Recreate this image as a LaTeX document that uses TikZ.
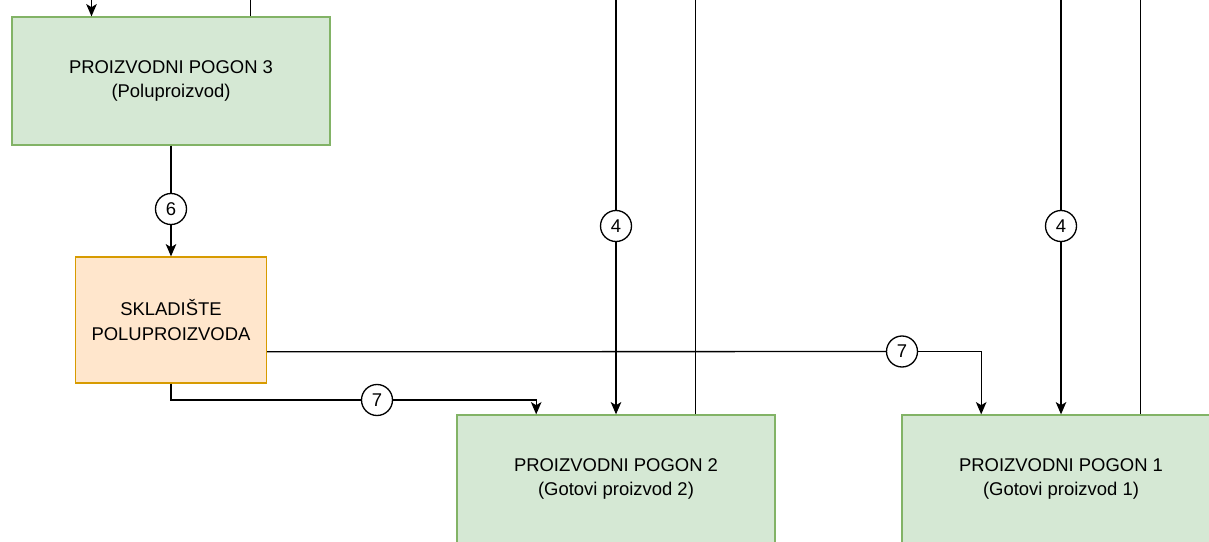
\documentclass[tikz,border=0pt]{standalone}
\usepackage{fontspec}
\setmainfont{Liberation Sans}
\usetikzlibrary{arrows.meta,calc}
\definecolor{pogonfill}{HTML}{D5E8D4}
\definecolor{pogonline}{HTML}{82B366}
\definecolor{skladfill}{HTML}{FFE6CC}
\definecolor{skladline}{HTML}{D79B00}
\tikzset{
  pogon/.style={draw=pogonline, fill=pogonfill, line width=0.75pt, minimum width=6.36cm, minimum height=2.56cm, align=center},
  sklad/.style={draw=skladline, fill=skladfill, line width=0.75pt, minimum width=3.82cm, minimum height=2.52cm, align=center},
  num/.style={circle, draw, fill=white, line width=0.75pt, inner sep=0pt, minimum size=0.62cm},
  tok/.style={line width=0.75pt},
  arr/.style={line width=0.75pt, -{Stealth[length=7pt,width=6pt,inset=1.8pt]}}
}
\begin{document}
\begin{tikzpicture}[x=0.02cm,y=-0.02cm,font=\fontsize{10.5}{14}\selectfont]
            \useasboundingbox (0,0) rectangle (1209,541);
            \node[pogon] (Pogon3) at (171,81) {PROIZVODNI POGON 3\\(Poluproizvod)};
            \node[sklad] (Sklad) at (171,320) {SKLADIŠTE\\POLUPROIZVODA};
            \node[pogon] (Pogon2) at (616,479) {PROIZVODNI POGON 2\\(Gotovi proizvod 2)};
            \node[pogon] (Pogon1) at (1061,479) {PROIZVODNI POGON 1\\(Gotovi proizvod 1)};
            \coordinate (Top3a) at (91.5,0);
            \coordinate (Top3b) at (250.5,0);
            \coordinate (Top2a) at (616,0);
            \coordinate (Top2b) at (695.5,0);
            \coordinate (Top1a) at (1061,0);
            \coordinate (Top1b) at (1140.5,0);
            \coordinate (SkladOut) at ($(Sklad.south east)!0.25!(Sklad.north east)$);
            \coordinate (Pogon2In) at ($(Pogon2.north west)!0.25!(Pogon2.north east)$);
            \coordinate (Pogon1In) at ($(Pogon1.north west)!0.25!(Pogon1.north east)$);
            \node[num] (Six) at (171,209) {6};
            \node[num] (Four2) at (616,226) {4};
            \node[num] (Four1) at (1061,226) {4};
            \node[num] (SevenLow) at (377,400) {7};
            \node[num] (SevenHigh) at (902,351.5) {7};
            \draw[arr] (Top3a) -- (Top3a |- Pogon3.north);
            \draw[tok] (Pogon3.north -| Top3b) -- (Top3b);
            \draw[tok] (Pogon3.south) -- (Six);
            \draw[arr] (Six) -- (Sklad.north);
            \draw[tok] (Sklad.south) |- (SevenLow);
            \draw[arr] (SevenLow) -| (Pogon2In);
            \draw[tok] (SkladOut) -- (SevenHigh);
            \draw[arr] (SevenHigh) -| (Pogon1In);
            \draw[tok] (Top2a) -- (Four2);
            \draw[arr] (Four2) -- (Pogon2.north);
            \draw[tok] (Pogon2.north -| Top2b) -- (Top2b);
            \draw[tok] (Top1a) -- (Four1);
            \draw[arr] (Four1) -- (Pogon1.north);
            \draw[tok] (Pogon1.north -| Top1b) -- (Top1b);
        \end{tikzpicture}
\end{document}
